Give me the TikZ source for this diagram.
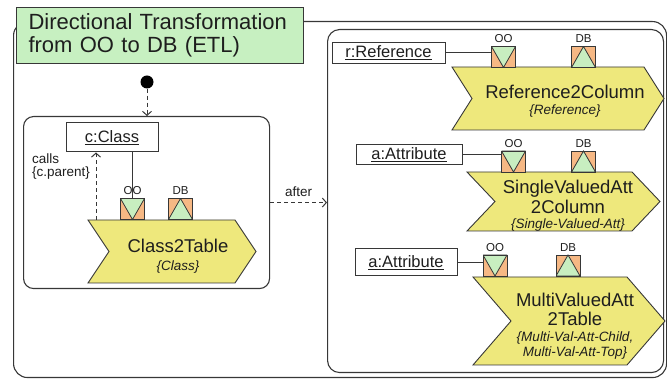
\documentclass[tikz,border=0pt]{standalone}
\usepackage{fontspec}
\setmainfont{Liberation Sans}
\usetikzlibrary{arrows.meta}
\definecolor{titlegreen}{RGB}{199,240,193}
\definecolor{portorange}{RGB}{246,184,132}
\definecolor{trigreen}{RGB}{200,238,192}
\definecolor{ruleyellow}{RGB}{238,232,124}
\definecolor{linegray}{RGB}{55,55,55}
\definecolor{textgray}{RGB}{30,30,30}
\newcommand{\subfont}{\fontsize{13.5}{15}\selectfont\itshape}
\tikzset{
  outerbox/.style={draw=linegray, line width=1.1pt, rounded corners=12pt, anchor=north west, inner sep=0pt},
  titlebox/.style={draw=linegray, line width=1pt, fill=titlegreen, anchor=north west, align=left,
    text width=263pt, inner xsep=12pt, minimum width=287pt, minimum height=56pt, text=textgray,
    font=\fontsize{22}{23}\selectfont},
  inst/.style={draw=linegray, line width=1pt, fill=white, inner sep=0pt, text=textgray,
    font=\fontsize{16.5}{18}\selectfont},
  port/.style={draw=linegray, line width=0.9pt, fill=portorange, minimum width=24pt,
    minimum height=21pt, inner sep=0pt},
  portin/.style={port, path picture={\draw[linegray, fill=trigreen, line width=0.8pt]
    (path picture bounding box.north west) -- (path picture bounding box.north east)
    -- (path picture bounding box.south) -- cycle;}},
  portout/.style={port, path picture={\draw[linegray, fill=trigreen, line width=0.8pt]
    (path picture bounding box.south west) -- (path picture bounding box.south east)
    -- (path picture bounding box.north) -- cycle;}},
  plabel/.style={font=\fontsize{11.5}{12}\selectfont, text=textgray, inner sep=0pt, above=3pt},
  chev/.style={draw=linegray, line width=0.9pt, fill=ruleyellow, line join=miter},
  rname/.style={align=center, text=textgray, inner sep=0pt, font=\fontsize{18.5}{20}\selectfont},
  dep/.style={draw=linegray, dash pattern=on 4pt off 3pt, line width=1pt,
    -{Straight Barb[length=4pt,width=9pt]}},
  note/.style={font=\fontsize{13.5}{13}\selectfont, text=textgray, inner sep=0pt},
  startdot/.style={circle, fill=black, minimum size=13pt, inner sep=0pt},
}
\begin{document}
\begin{tikzpicture}[x=1pt, y=-1pt]
\useasboundingbox (0,0) rectangle (667,379);
% frames
\node[outerbox, minimum width=653pt, minimum height=356pt, rounded corners=14pt] (outer) at (13,21) {};
\node[titlebox] (title) at (16,7) {Directional Transformation\\from OO to DB (ETL)};
\node[outerbox, minimum width=246pt, minimum height=172pt, rounded corners=10pt] (leftbox) at (23,116) {};
\node[outerbox, minimum width=336pt, minimum height=343pt] (rightbox) at (327,29) {};
\node[startdot] (start) at (147,82) {};
\draw[dep] (start) -- (start |- leftbox.north);

% left state: Class2Table
\draw[chev] (88,220) -- ++(147,0) -- ++(21,31.5) -- ++(-21,31.5) -- ++(-147,0) -- ++(21,-31.5) -- cycle;
\node[rname] (c2t) at (178,256) {Class2Table\\[-2.5pt]{\subfont \{Class\}}};
\node[inst, minimum width=92pt, minimum height=29pt] (cclass) at (112,137.5) {\underline{c:Class}};
\node[portin] (oo1) at (132.5,209) {};
\node[portout] (db1) at (180.5,209) {};
\node[plabel] (oo1l) at (oo1.north) {OO};
\node[plabel] (db1l) at (db1.north) {DB};
\draw[linegray, line width=1pt] (cclass.south -| oo1.north) -- (oo1.north);
\coordinate (c2ttop) at (96,220);
\draw[dep] (c2ttop) -- (c2ttop |- cclass.south);
\node[note, anchor=west, align=left] (callslbl) at (32,166.5) {calls\\\{c.parent\}};

% after
\draw[dep] (leftbox.east) -- (leftbox.east -| rightbox.west)
  node[note, midway, above=5pt] (afterlbl) {after};

% right state: Reference2Column
\draw[chev] (452,67) -- ++(192,0) -- ++(20,31.5) -- ++(-20,31.5) -- ++(-192,0) -- ++(20,-31.5) -- cycle;
\node[rname] (r2c) at (565,101) {Reference2Column\\[-3.5pt]{\subfont \{Reference\}}};
\node[inst, minimum width=113pt, minimum height=21pt] (rref) at (388.5,53) {\underline{r:Reference}};
\node[portin] (oo2) at (503.5,57) {};
\node[portout] (db2) at (583.5,57) {};
\node[plabel] (oo2l) at (oo2.north) {OO};
\node[plabel] (db2l) at (db2.north) {DB};
\draw[linegray, line width=1pt] (rref.east) -- (rref.east -| oo2.west);

% right state: SingleValuedAtt2Column
\draw[chev] (467,172) -- ++(165,0) -- ++(28,29.5) -- ++(-28,29.5) -- ++(-165,0) -- ++(28,-29.5) -- cycle;
\node[rname] (sva) at (568,205.5) {SingleValuedAtt\\[0pt]2Column\\[-5pt]{\subfont \{Single-Valued-Att\}}};
\node[inst, minimum width=106pt, minimum height=20pt] (attr1) at (409,155) {\underline{a:Attribute}};
\node[portin] (oo3) at (513.5,161.5) {};
\node[portout] (db3) at (583.5,161.5) {};
\node[plabel] (oo3l) at (oo3.north) {OO};
\node[plabel] (db3l) at (db3.north) {DB};
\draw[linegray, line width=1pt] (attr1.east) -- (attr1.east -| oo3.west);

% right state: MultiValuedAtt2Table
\draw[chev] (473,277) -- ++(154,0) -- ++(38,44) -- ++(-38,44) -- ++(-154,0) -- ++(38,-44) -- cycle;
\node[rname] (mva) at (575,326.5) {MultiValuedAtt\\[-1pt]2Table\\[-4pt]{\subfont \{Multi-Val-Att-Child,}\\[-5pt]{\subfont Multi-Val-Att-Top\}}};
\node[inst, minimum width=102pt, minimum height=27pt] (attr2) at (406,262.5) {\underline{a:Attribute}};
\node[portin] (oo4) at (495,265.5) {};
\node[portout] (db4) at (568,265.5) {};
\node[plabel] (oo4l) at (oo4.north) {OO};
\node[plabel] (db4l) at (db4.north) {DB};
\draw[linegray, line width=1pt] (attr2.east) -- (attr2.east -| oo4.west);
\end{tikzpicture}
\end{document}
